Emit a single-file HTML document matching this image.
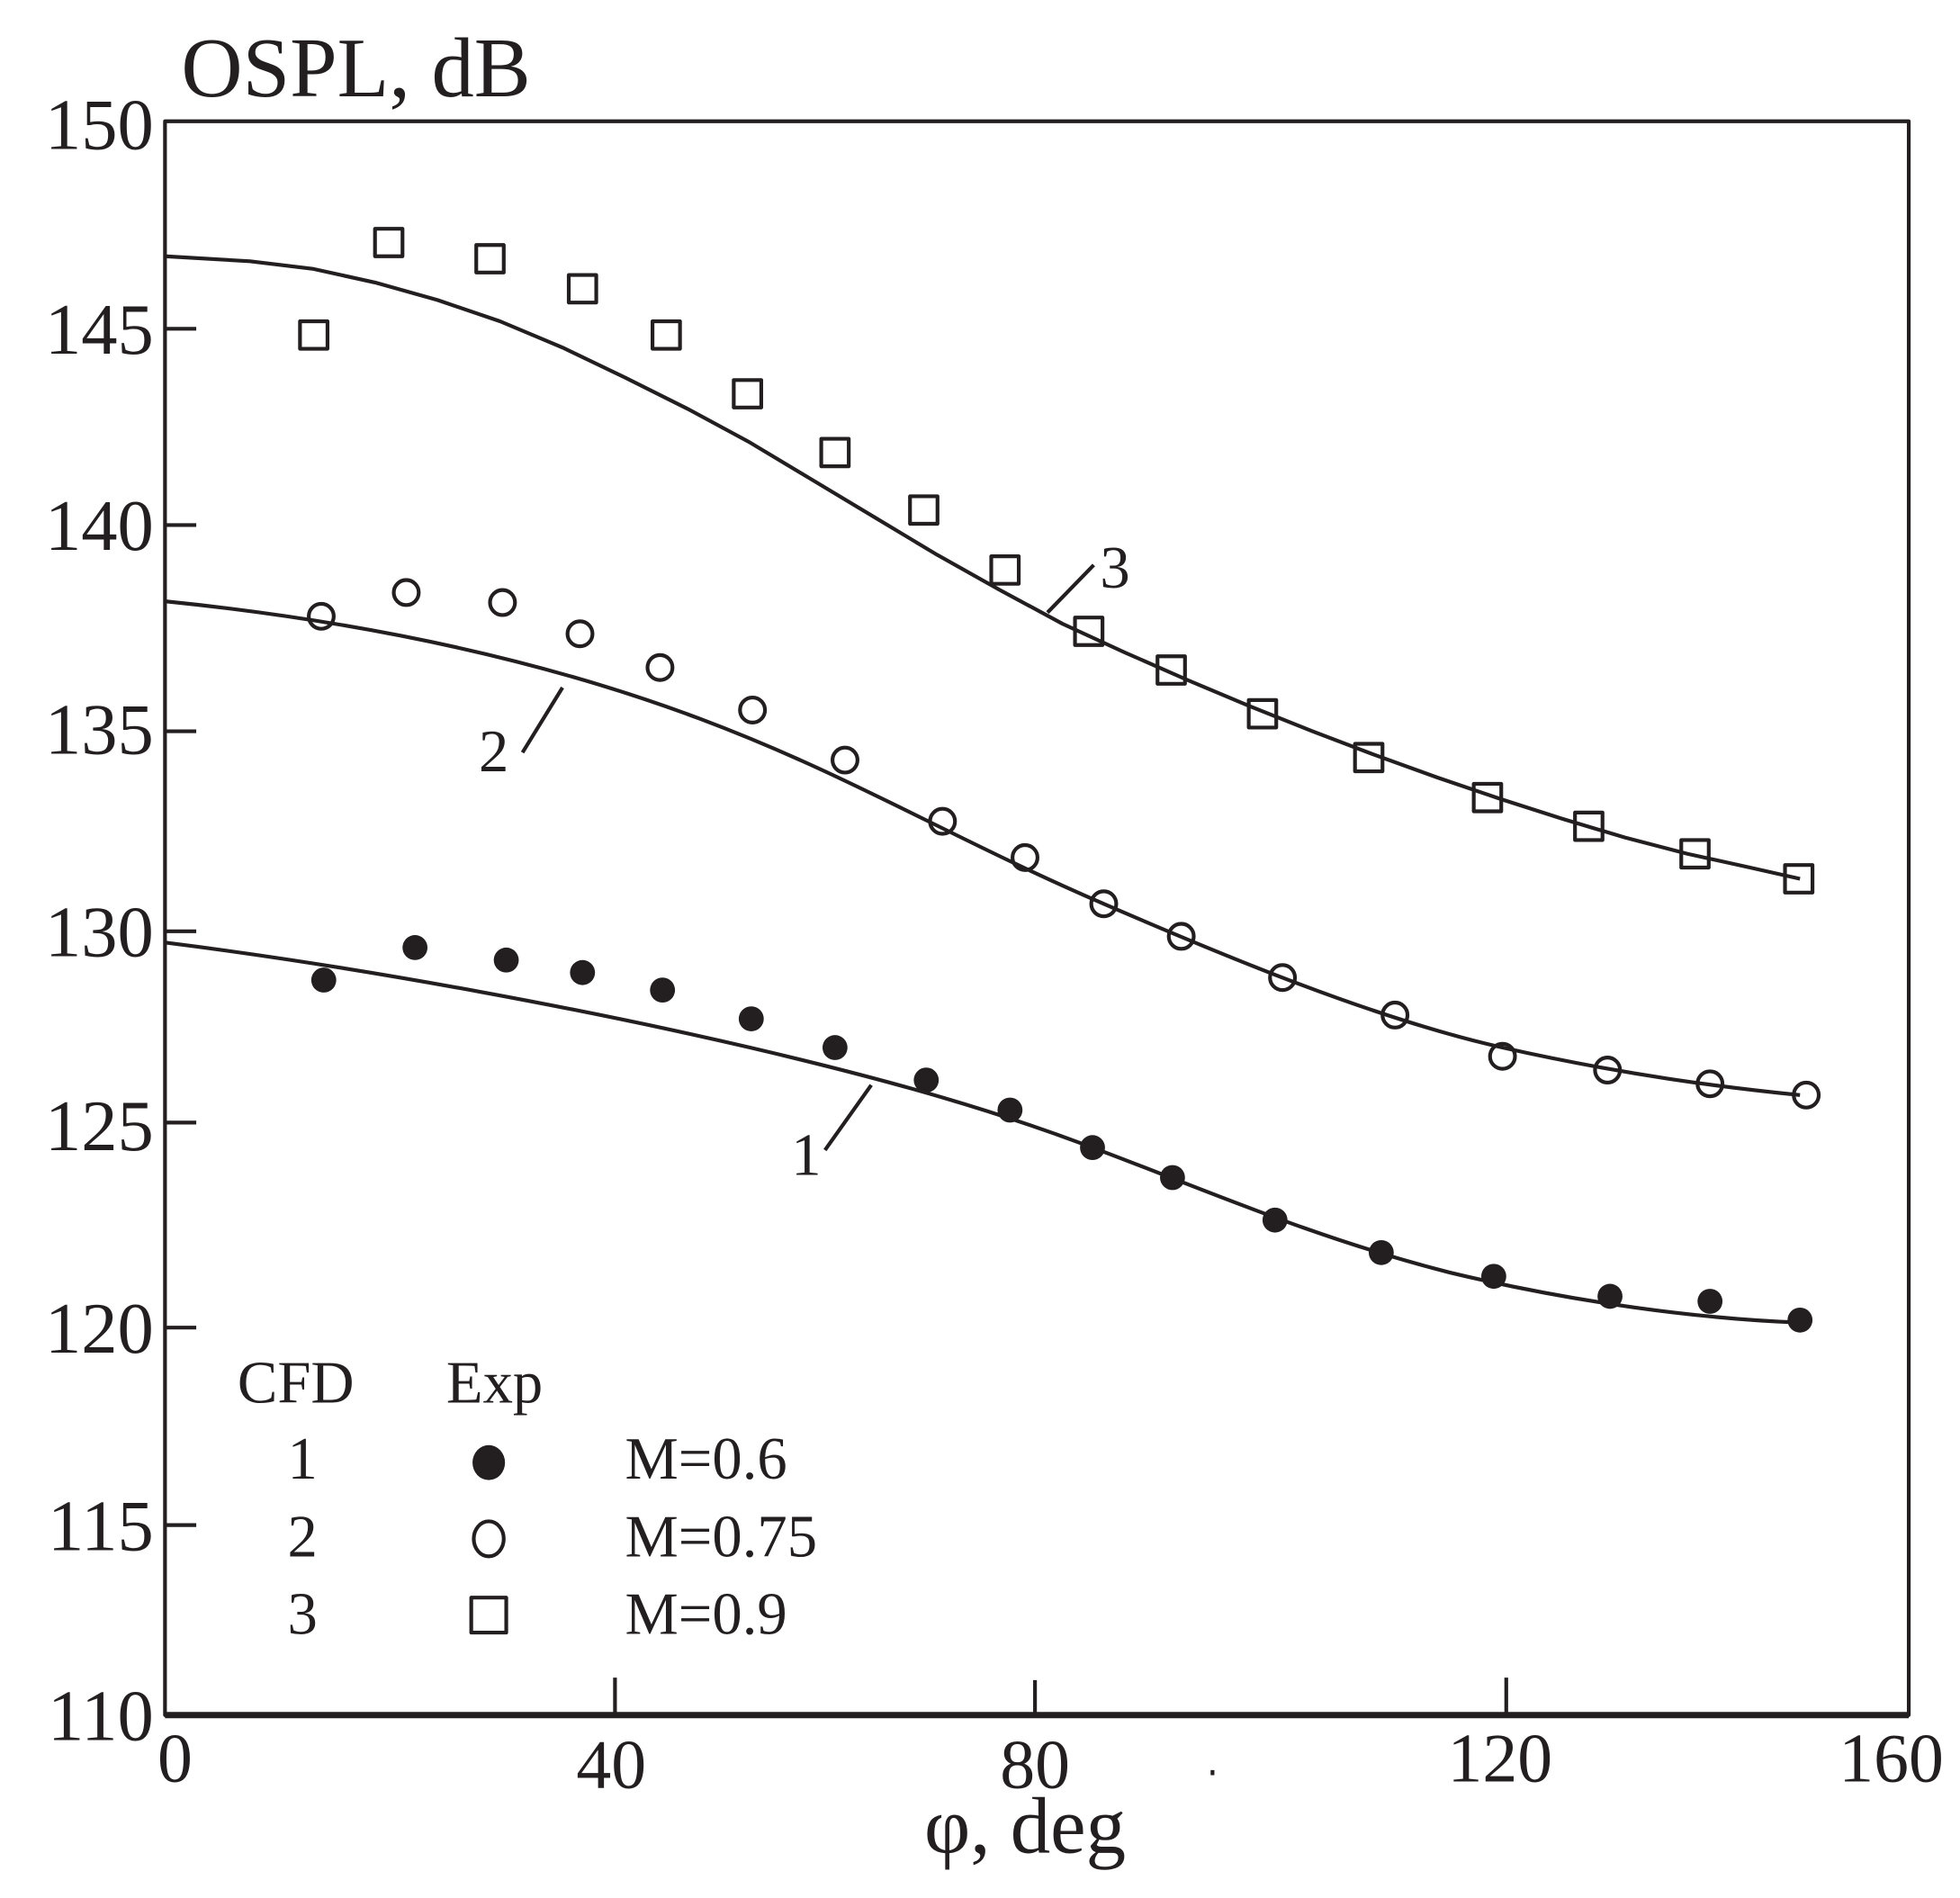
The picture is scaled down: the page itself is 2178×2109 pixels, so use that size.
<!DOCTYPE html>
<html><head><meta charset="utf-8"><style>html,body{margin:0;padding:0;background:#fff}svg{display:block}</style></head>
<body>
<svg width="2178" height="2109" viewBox="0 0 1568 1518.3" preserveAspectRatio="none" xmlns="http://www.w3.org/2000/svg">
<g font-family="'Liberation Serif', serif" fill="#231f20">
<text x="145" y="77" font-size="68">OSPL, dB</text>
<g font-size="58" text-anchor="end">
<text x="123" y="119">150</text>
<text x="123" y="283">145</text>
<text x="123" y="440">140</text>
<text x="123" y="603">135</text>
<text x="123" y="765">130</text>
<text x="123" y="920">125</text>
<text x="123" y="1082">120</text>
<text x="123" y="1240">115</text>
<text x="123" y="1392">110</text>
</g>
<g font-size="56" text-anchor="middle">
<text x="140" y="1425">0</text>
<text x="489" y="1430">40</text>
<text x="828" y="1430">80</text>
<text x="1200" y="1425">120</text>
<text x="1513" y="1425">160</text>
</g>
<text x="820" y="1482" font-size="64" text-anchor="middle">φ, deg</text>
<g font-size="48">
<text x="190" y="1122">CFD</text>
<text x="357" y="1122">Exp</text>
<text x="230" y="1183">1</text>
<text x="230" y="1245">2</text>
<text x="230" y="1307">3</text>
<text x="500" y="1183">M=0.6</text>
<text x="500" y="1245">M=0.75</text>
<text x="500" y="1307">M=0.9</text>
<text x="880" y="470">3</text>
<text x="383" y="617">2</text>
<text x="633" y="940">1</text>
</g>
</g>
<g stroke="#231f20" fill="none" stroke-linejoin="round">
<rect x="132" y="97" width="1395" height="1275" stroke-width="3"/>
<line x1="132" y1="1372" x2="1527" y2="1372" stroke-width="5"/>
<g stroke-width="3">
<path d="M132 263h25M132 420h25M132 585h25M132 745h25M132 898h25M132 1062h25M132 1220h25"/>
<path d="M492 1372v-30M828 1372v-28M1205 1372v-30M970 1416v4"/>
<path d="M838 490L875 452M418 602L450 550M660 920L697 868"/>
<polyline points="132,205 200,209 250,215 300,226 350,240 400,257 450,278 500,302 550,327 600,354 650,384 700,414 750,444 800,472 850,499 900,522 950,544 1000,565 1050,585 1100,604 1150,622 1200,639 1250,655 1300,670 1350,683 1400,694 1440,703"/>
<path d="M132 481 C300 498,440 530,560 575 C680 620,760 670,883 723 C980 765,1100 815,1202 838 C1300 860,1380 870,1440 876"/>
<path d="M132 754 C300 775,480 810,600 838 C720 866,800 890,874 918 C960 950,1050 990,1160 1018 C1260 1042,1360 1055,1440 1058"/>
</g>
<g stroke-width="3">
<path d="M240 257h22v22h-22zM300 183h22v22h-22zM381 196h22v22h-22zM455 220h22v22h-22zM522 257h22v22h-22zM587 304h22v22h-22zM657 351h22v22h-22zM728 397h22v22h-22zM793 445h22v22h-22zM860 494h22v22h-22zM926 525h22v22h-22zM999 560h22v22h-22zM1084 595h22v22h-22zM1179 627h22v22h-22zM1260 650h22v22h-22zM1345 672h22v22h-22zM1428 692h22v22h-22zM377 1278h28v28h-28z"/>
<circle cx="257" cy="493" r="10"/><circle cx="325" cy="474" r="10"/><circle cx="402" cy="482" r="10"/><circle cx="464" cy="507" r="10"/><circle cx="528" cy="534" r="10"/><circle cx="602" cy="568" r="10"/><circle cx="676" cy="608" r="10"/><circle cx="754" cy="657" r="10"/><circle cx="820" cy="686" r="10"/><circle cx="883" cy="723" r="10"/><circle cx="945" cy="749" r="10"/><circle cx="1026" cy="782" r="10"/><circle cx="1116" cy="812" r="10"/><circle cx="1202" cy="845" r="10"/><circle cx="1286" cy="856" r="10"/><circle cx="1368" cy="867" r="10"/><circle cx="1445" cy="876" r="10"/>
<ellipse cx="391" cy="1231" rx="12" ry="14"/>
</g>
</g>
<g fill="#231f20">
<circle cx="259" cy="784" r="10"/><circle cx="332" cy="758" r="10"/><circle cx="405" cy="768" r="10"/><circle cx="466" cy="778" r="10"/><circle cx="530" cy="792" r="10"/><circle cx="601" cy="815" r="10"/><circle cx="668" cy="838" r="10"/><circle cx="741" cy="864" r="10"/><circle cx="808" cy="888" r="10"/><circle cx="874" cy="918" r="10"/><circle cx="938" cy="942" r="10"/><circle cx="1020" cy="976" r="10"/><circle cx="1105" cy="1002" r="10"/><circle cx="1195" cy="1021" r="10"/><circle cx="1288" cy="1037" r="10"/><circle cx="1368" cy="1041" r="10"/><circle cx="1440" cy="1056" r="10"/>
<ellipse cx="391" cy="1170" rx="13" ry="14"/>
</g>
</svg>
</body></html>
